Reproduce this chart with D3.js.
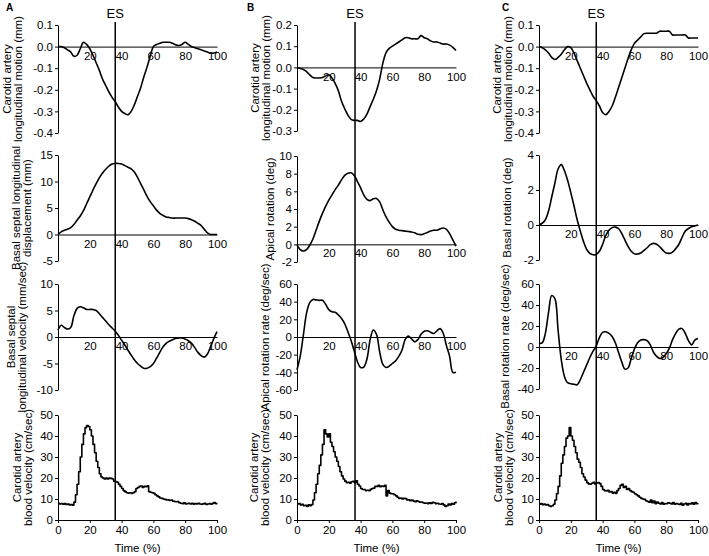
<!DOCTYPE html>
<html><head><meta charset="utf-8">
<script src="https://cdn.jsdelivr.net/npm/d3@7/dist/d3.min.js"></script>
<style>body{margin:0;background:#fff}svg{display:block}</style>
</head><body><svg id="c" width="709" height="556"></svg>
<script>
// ---------- DATA ----------
const time2 = [0,2,4,6,8,10,12,14,16,18,20,22,24,26,28,30,32,34,36,38,40,42,44,46,48,50,52,54,56,58,60,62,64,66,68,70,72,74,76,78,80,82,84,86,88,90,92,94,96,98,100];
const time1 = [0,1,2,3,4,5,6,7,8,9,10,11,12,13,14,15,16,17,18,19,20,21,22,23,24,25,26,27,28,29,30,31,32,33,34,35,36,37,38,39,40,41,42,43,44,45,46,47,48,49,50,51,52,53,54,55,56,57,58,59,60,61,62,63,64,65,66,67,68,69,70,71,72,73,74,75,76,77,78,79,80,81,82,83,84,85,86,87,88,89,90,91,92,93,94,95,96,97,98,99,100];
const esTime = [36, 36.5, 36];

// Column A
const aCarotidMotion = [0,0,-0.005,-0.015,-0.025,-0.045,-0.04,-0.01,0.02,0.01,-0.01,-0.04,-0.075,-0.11,-0.15,-0.18,-0.21,-0.235,-0.255,-0.28,-0.3,-0.31,-0.315,-0.3,-0.27,-0.23,-0.19,-0.14,-0.095,-0.045,0,0.01,0.015,0.02,0.02,0.02,0.015,0.008,0.005,0.01,0.02,0.01,0,-0.005,-0.01,-0.015,-0.02,-0.025,-0.03,-0.03,-0.025];
const aSeptalDisp = [0,0.5,0.8,1.0,1.3,1.9,2.7,3.5,4.5,5.8,7.1,8.4,9.6,10.7,11.6,12.3,12.9,13.3,13.4,13.4,13.3,13.0,12.7,12.4,11.8,10.8,9.6,8.4,7.2,6.2,5.4,4.6,4.0,3.6,3.3,3.2,3.1,3.1,3.1,3.1,3.1,3.0,2.8,2.5,2.1,1.7,1.0,0.3,0,0,0];
const aSeptalVel = [1.3,2.2,1.8,1.5,1.8,4.0,5.4,5.7,5.5,5.2,5.2,5.2,5.0,4.4,3.7,3.0,2.3,1.7,1.1,0.3,-0.6,-1.5,-2.5,-3.4,-4.3,-5.0,-5.5,-5.9,-5.9,-5.6,-5.0,-4.0,-2.9,-1.9,-1.2,-0.8,-0.5,-0.3,-0.2,-0.2,-0.4,-0.7,-1.2,-2.0,-2.9,-3.5,-3.8,-3.2,-1.8,-0.3,1.0];
const aBloodVel = [8.0,7.6,7.8,7.5,7.8,7.4,7.6,7.2,7.3,7.0,
 8.5,12,17,23,30,36,41,44,45,44.5,
 43,40,36,32,28,25,22,20.5,20,19.5,
 20,19.5,20,19.8,19.5,18.5,18.3,18,17,16,
 15,14,13.5,13,12.8,13,12.7,13,13.5,15,
 15.5,16,16.2,15.5,16,15.8,16.3,13.5,13.2,13,
 12.7,12,11.5,11,10.5,10.3,10,9.8,9.5,9.6,
 9.3,9.5,9,8.8,8.7,8.8,8.2,8,7.8,8.2,
 7.6,7.8,8,7.6,7.9,7.5,7.8,7.6,8,7.6,
 7.5,7.7,7.9,7.4,7.6,7.8,7.5,7.9,8.3,7.8,8.0];

// Column B
const bCarotidMotion = [0,-0.005,-0.01,-0.02,-0.035,-0.048,-0.05,-0.05,-0.048,-0.04,-0.035,-0.05,-0.075,-0.11,-0.16,-0.195,-0.225,-0.245,-0.25,-0.25,-0.255,-0.243,-0.22,-0.185,-0.15,-0.11,-0.055,0.02,0.07,0.09,0.1,0.11,0.12,0.13,0.14,0.14,0.135,0.135,0.135,0.15,0.14,0.135,0.125,0.12,0.12,0.115,0.11,0.11,0.105,0.095,0.08];
const bApicalRot = [-0.1,-0.6,-0.75,-0.6,-0.1,0.6,1.6,2.6,3.5,4.3,5.0,5.6,6.2,6.7,7.3,7.8,8.05,8.1,7.8,7.1,6.4,5.6,5.1,4.95,5.15,5.2,4.8,3.9,3.1,2.5,2.0,1.7,1.6,1.55,1.5,1.45,1.4,1.3,1.15,1.1,1.2,1.35,1.5,1.6,1.6,1.75,1.85,1.7,1.2,0.5,-0.2];
const bApicalRate = [-37,-22,2,27,39,42.5,42,41.5,41.5,37,31,28.5,28,25,21,15,6,-4,-16,-28,-34.5,-34,-25,-3,8,3,-17,-31,-34.5,-33,-30,-27,-22,-15,-3,1,-2,-5.5,-3,3,6.5,7,5.5,4,7,9.5,4,-10,-22,-40,-40];
const bBloodVel = [7.6,7.8,7.2,7.5,6.8,7.0,6.5,7.2,6.8,7.3,
 9.5,13,17,22,26,31,36,43,41,39.5,
 41,37,35,32.5,30,28,25.5,23,21,19.5,
 18.5,17.8,18,17.5,18.2,18.4,17.8,18.7,17,16.2,
 15,14.5,14.5,14,14.2,14,14.6,15,15.2,16,
 16,16.5,15.8,16.2,16,16.5,11.5,14,12.8,12.5,
 12.5,12,11.5,10.8,10.3,10.5,10,10.3,10.2,9.5,
 9.6,9.2,9.5,9,8.7,9.2,8.8,8.5,8.6,8.2,
 8,8.1,7.8,8.2,7.9,8.4,8.2,7.8,8,7.6,
 7.5,7.8,7.2,6.5,6.8,7.6,7.2,7.8,7.5,8.2,8.8];

// Column C
const cCarotidMotion = [0,-0.005,-0.015,-0.03,-0.05,-0.06,-0.05,-0.035,-0.015,0,-0.005,-0.03,-0.065,-0.1,-0.135,-0.17,-0.2,-0.23,-0.25,-0.275,-0.305,-0.315,-0.3,-0.275,-0.235,-0.19,-0.145,-0.1,-0.055,-0.015,0.015,0.03,0.045,0.06,0.062,0.062,0.062,0.062,0.071,0.071,0.071,0.071,0.054,0.054,0.054,0.054,0.054,0.04,0.04,0.04,0.04];
const cBasalRot = [0,0.1,0.3,0.8,1.6,2.4,3.2,3.45,3.1,2.55,1.85,1.1,0.3,-0.35,-0.95,-1.4,-1.62,-1.7,-1.68,-1.5,-1.1,-0.6,-0.3,-0.15,-0.12,-0.2,-0.48,-0.85,-1.22,-1.5,-1.65,-1.66,-1.6,-1.45,-1.3,-1.12,-1.05,-1.1,-1.25,-1.45,-1.6,-1.62,-1.55,-1.35,-1.1,-0.7,-0.35,-0.2,-0.1,-0.05,0];
const cBasalRate = [3.5,4,13,33,49,46,16,-12,-28,-34,-35,-35.5,-36,-31,-24,-17,-10,-4,1,9,14,14.5,13,10,4,-5,-14,-21,-20,-11,-2,4,6.7,7,6,2,-5,-9,-11,-10,-6.5,-1,7,13,17,17.5,13,6,2,6.5,8];
const cBloodVel = [7.5,7.8,7.3,7.6,7.2,7.4,6.8,6.5,6.8,7.5,
 9.5,12.5,16,21,27,31,35,39,40,44,
 40,38,35,32,29,27.5,25,22,20.5,19,
 17.8,17.2,17,17.5,18,17.2,17.6,17.8,17.3,16,
 14.5,14,13.8,14.2,13.3,13.5,12.8,13.2,12.7,14,
 15,16.5,17,15.5,16,14.5,15,14,13.5,13.2,
 12.5,12,11.5,10.8,10.3,10,9.8,9.2,8.8,8.5,
 9.5,8.2,9,7.8,8.5,8,7.6,8.3,7.5,7.8,
 7.8,8.2,8,7.6,8.3,7.5,7.8,7.6,7.4,8,
 7,7.6,8,7.2,7.8,7.6,8.2,7.5,8.3,7.8,8];

// Tick labels
const ticksMotionAC = [0.1,0,-0.1,-0.2,-0.3,-0.4];
const ticksMotionB = [0.2,0.1,0,-0.1,-0.2,-0.3];
const ticksDisp = [15,10,5,0,-5];
const ticksSeptVel = [10,5,0,-5,-10];
const ticksBlood = [50,40,30,20,10,0];
const ticksApRot = [10,8,6,4,2,0,-2];
const ticksApRate = [60,40,20,0,-20,-40,-60];
const ticksBaRot = [4,2,0,-2];
const ticksBaRate = [60,40,20,0,-20,-40];
const xTicksTop = [20,40,60,80,100];
const xTicksBottom = [0,20,40,60,80,100];
const colLetters = ["A","B","C"];

// ---------- LAYOUT ----------
const colLeft = [58, 297, 539];
const plotW = 159;
const FONT = "'Liberation Sans', Arial, sans-serif";
const loc = d3.formatLocale({decimal:".", thousands:",", grouping:[3], currency:["",""], minus:"-"});

const panels = [
 {col:0, dom:[-0.4,0.1], rng:[133,25], ticks:ticksMotionAC, fmt:".1f", t:time2, v:aCarotidMotion, title:["Carotid artery","longitudinal motion (mm)"], tx:[7,18]},
 {col:0, dom:[-5,15], rng:[261,155], ticks:ticksDisp, fmt:"d", t:time2, v:aSeptalDisp, title:["Basal septal longitudinal","displacement (mm)"], tx:[16,27]},
 {col:0, dom:[-10,10], rng:[390,284], ticks:ticksSeptVel, fmt:"d", t:time2, v:aSeptalVel, title:["Basal septal","longitudinal velocity (mm/sec)"], tx:[11,22]},
 {col:0, dom:[0,50], rng:[520,415], ticks:ticksBlood, fmt:"d", t:time1, v:aBloodVel, step:true, bottom:true, title:["Carotid artery","blood velocity (cm/sec)"], tx:[17,28]},
 {col:1, dom:[-0.3,0.2], rng:[131,25], ticks:ticksMotionB, fmt:".1f", t:time2, v:bCarotidMotion, title:["Carotid artery","longitudinal motion (mm)"], tx:[255,266]},
 {col:1, dom:[-2,10], rng:[262,156], ticks:ticksApRot, fmt:"d", t:time2, v:bApicalRot, title:["Apical rotation (deg)"], tx:[270]},
 {col:1, dom:[-60,60], rng:[390,284], ticks:ticksApRate, fmt:"d", t:time2, v:bApicalRate, title:["Apical rotation rate (deg/sec)"], tx:[265]},
 {col:1, dom:[0,50], rng:[520,415], ticks:ticksBlood, fmt:"d", t:time1, v:bBloodVel, step:true, bottom:true, title:["Carotid artery","blood velocity (cm/sec)"], tx:[254,265]},
 {col:2, dom:[-0.4,0.1], rng:[133,25], ticks:ticksMotionAC, fmt:".1f", t:time2, v:cCarotidMotion, title:["Carotid artery","longitudinal motion (mm)"], tx:[497,508]},
 {col:2, dom:[-2,4], rng:[260,155], ticks:ticksBaRot, fmt:"d", t:time2, v:cBasalRot, title:["Basal rotation (deg)"], tx:[507]},
 {col:2, dom:[-40,60], rng:[389,284], ticks:ticksBaRate, fmt:"d", t:time2, v:cBasalRate, title:["Basal rotation rate (deg/sec)"], tx:[505]},
 {col:2, dom:[0,50], rng:[520,415], ticks:ticksBlood, fmt:"d", t:time1, v:cBloodVel, step:true, bottom:true, title:["Carotid artery","blood velocity (cm/sec)"], tx:[498,509]}
];

const svg = d3.select("#c");
const xs = colLeft.map(l => d3.scaleLinear().domain([0,100]).range([l, l+plotW]));

function styleAxis(g, size){
  g.attr("font-family", FONT).attr("font-size", size);
  g.selectAll("path, line").attr("stroke","#000").attr("stroke-width",1);
  g.selectAll("text").attr("fill","#000");
}

panels.forEach(p => {
  const x = xs[p.col];
  const y = d3.scaleLinear().domain(p.dom).range(p.rng);
  const ya = svg.append("g").attr("transform",`translate(${colLeft[p.col]},0)`)
    .call(d3.axisLeft(y).tickValues(p.ticks).tickSizeInner(3).tickSizeOuter(0).tickPadding(2).tickFormat(loc.format(p.fmt)));
  styleAxis(ya, 11.5);
  const xa = svg.append("g").attr("transform",`translate(0,${y(0)})`)
    .call(d3.axisBottom(x).tickValues(p.bottom ? xTicksBottom : xTicksTop)
      .tickSizeInner(p.bottom ? 3 : 0).tickSizeOuter(0).tickPadding(p.bottom ? 3 : 5).tickFormat(d3.format("d")));
  styleAxis(xa, 11.5);
  const line = d3.line().x((d,i) => x(p.t[i])).y(d => y(d))
    .curve(p.step ? d3.curveStepAfter : d3.curveCatmullRom.alpha(0.5));
  svg.append("path").datum(p.v).attr("d", line)
    .attr("fill","none").attr("stroke","#000").attr("stroke-width",1.6).attr("stroke-linejoin","round");
  const cy = (p.rng[0] + p.rng[1]) / 2;
  p.title.forEach((s, i) => {
    svg.append("text").attr("transform",`translate(${p.tx[i]},${cy}) rotate(-90)`)
      .attr("text-anchor","middle").attr("dominant-baseline","central")
      .attr("font-family",FONT).attr("font-size",11.5).attr("fill","#000").text(s);
  });
});

[0,1,2].forEach(c => {
  const x = xs[c];
  const ex = x(esTime[c]);
  svg.append("line").attr("x1",ex).attr("x2",ex).attr("y1",22).attr("y2",520)
    .attr("stroke","#000").attr("stroke-width",1.5);
  svg.append("text").attr("x",ex).attr("y",18).attr("text-anchor","middle")
    .attr("font-family",FONT).attr("font-size",13).text("ES");
  svg.append("text").attr("x",x(50)).attr("y",552).attr("text-anchor","middle")
    .attr("font-family",FONT).attr("font-size",11.5).text("Time (%)");
});
const letterX = [6, 247, 502];
colLetters.forEach((l, c) => {
  svg.append("text").attr("x",letterX[c]).attr("y",11)
    .attr("font-family",FONT).attr("font-size",10).attr("font-weight","bold").text(l);
});
</script>
</body></html>
